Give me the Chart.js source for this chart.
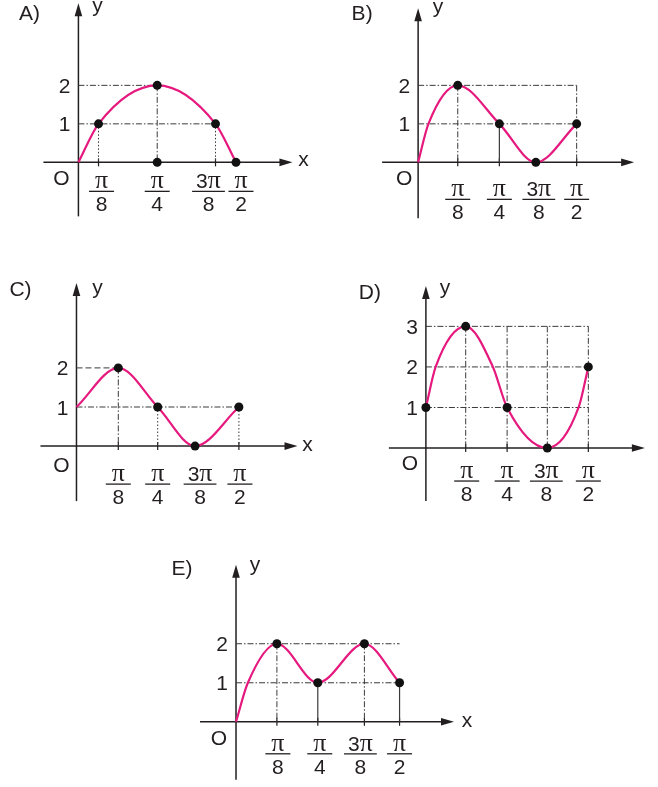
<!DOCTYPE html>
<html>
<head>
<meta charset="utf-8">
<script src="https://cdn.jsdelivr.net/npm/chart.js@4.4.1/dist/chart.umd.min.js"></script>
<style>
  body { margin: 0; background: #fff; }
  #wrap { position: relative; width: 658px; height: 787px; background: #fff; }
  canvas { position: absolute; }
</style>
</head>
<body>
<div id="wrap">
  <canvas id="cA" width="329" height="240" style="left:0;top:0"></canvas>
  <canvas id="cB" width="329" height="240" style="left:329px;top:0"></canvas>
  <canvas id="cC" width="329" height="262" style="left:0;top:262px"></canvas>
  <canvas id="cD" width="329" height="262" style="left:329px;top:262px"></canvas>
  <canvas id="cE" width="340" height="247" style="left:140px;top:540px"></canvas>
</div>
<script>
// x values are in units of pi/8 (4 = pi/2)
var tickNames = [["π", "8"], ["π", "4"], ["3π", "8"], ["π", "2"]];

// A)
var curveXA = [0, 0.51, 2.0, 3.48, 4.0];
var curveYA = [0, 1, 2, 1, 0];
var dotXA = [0.51, 2.0, 3.48, 2.0, 4.0];
var dotYA = [1, 2, 1, 0, 0];
var ticksA = [0.51, 2.0, 3.48, 4.0];
var yLabelsA = [1, 2];

// B)
var curveXB = [0, 0.26, 1.0, 2.05, 2.97, 4.0];
var curveYB = [0, 1, 2, 1, 0, 1];
var dotXB = [1.0, 2.05, 2.97, 4.0];
var dotYB = [2, 1, 0, 1];
var ticksB = [1.0, 2.05, 2.97, 4.0];
var yLabelsB = [1, 2];

// C)
var curveXC = [0, 1.03, 2.0, 2.92, 4.0];
var curveYC = [1, 2, 1, 0, 1];
var dotXC = [1.03, 2.0, 2.92, 4.0];
var dotYC = [2, 1, 0, 1];
var ticksC = [1.03, 2.0, 2.92, 4.0];
var yLabelsC = [1, 2];

// D)
var curveXD = [0, 0.24, 0.98, 1.65, 2.0, 2.99, 3.76, 4.0];
var curveYD = [1, 2, 3, 2, 1, 0, 1, 2];
var dotXD = [0, 0.98, 2.0, 2.99, 4.0];
var dotYD = [1, 3, 1, 0, 2];
var ticksD = [0.98, 2.0, 2.99, 4.0];
var yLabelsD = [1, 2, 3];

// E)
var curveXE = [0, 0.29, 1.0, 2.0, 3.14, 4.0];
var curveYE = [0, 1, 2, 1, 2, 1];
var dotXE = [1.0, 2.0, 3.14, 4.0];
var dotYE = [2, 1, 2, 1];
var ticksE = [1.0, 2.0, 3.14, 4.0];
var yLabelsE = [1, 2];

// reference lines [x1, y1, x2, y2]
var guidesA = {
    dashdot: [[0, 2, 2.0, 2], [0, 1, 3.48, 1], [2.0, 2, 2.0, 0]],
    dotted: [[0.51, 1, 0.51, 0], [3.48, 1, 3.48, 0]]
};
var guidesB = {
    dashdot: [[0, 2, 4.0, 2], [0, 1, 4.0, 1], [1.0, 2, 1.0, 0], [4.0, 2, 4.0, 0]],
    solid: [[2.05, 1, 2.05, 0]]
};
var guidesC = {
    dashed: [[0, 2, 1.03, 2]],
    dashdot: [[1.03, 2, 1.03, 0], [0, 1, 4.0, 1]],
    dotted: [[2.0, 1, 2.0, 0], [4.0, 1, 4.0, 0]]
};
var guidesD = {
    dashdot: [[0, 1, 4.0, 1], [0, 2, 4.0, 2], [0, 3, 4.0, 3],
              [0.98, 3, 0.98, 0], [2.0, 3, 2.0, 0], [2.99, 3, 2.99, 0], [4.0, 3, 4.0, 0]]
};
var guidesE = {
    dashdot: [[0, 2, 4.0, 2], [0, 1, 4.0, 1], [1.0, 2, 1.0, 0], [3.14, 2, 3.14, 0]],
    solid: [[2.0, 1, 2.0, 0], [4.0, 1, 4.0, 0]]
};

var INK = "#231f20";
var PINK = "#e5197e";
var SANS = '"Liberation Sans", Arial, sans-serif';
var SERIF = '"Liberation Serif", "Times New Roman", serif';
var FS = "21px ";
var dashes = { dashdot: [6, 2, 1.5, 2], dotted: [1.5, 2], dashed: [6, 3], solid: [] };

function pts(xs, ys) {
    return xs.map(function (x, i) { return { x: x, y: ys[i] }; });
}

// draws "π" / "3π" centred on cx, baseline by
function drawNumerator(ctx, s, cx, by) {
    ctx.textAlign = "left";
    ctx.font = FS + SANS;
    var pre = s.length > 1 ? s.slice(0, -1) : "";
    var w1 = pre ? ctx.measureText(pre).width : 0;
    ctx.font = "26px " + SERIF;
    var w2 = ctx.measureText("π").width;
    var x0 = cx - (w1 + w2) / 2;
    if (pre) {
        ctx.font = FS + SANS;
        ctx.fillText(pre, x0, by);
    }
    ctx.font = "26px " + SERIF;
    ctx.fillText("π", x0 + w1, by);
    return w1 + w2;
}

function axesPlugin(p) {
    return {
        id: "axes" + p.name,
        beforeDatasetsDraw: function (chart) {
            var ctx = chart.ctx;
            var ox = chart.scales.x.getPixelForValue(0);
            var oy = chart.scales.y.getPixelForValue(0);
            ctx.save();
            ctx.strokeStyle = INK;
            ctx.fillStyle = INK;
            ctx.lineWidth = 1.5;
            // x axis
            var xEnd = ox + p.xAxis[1];
            ctx.beginPath();
            ctx.moveTo(ox + p.xAxis[0], oy);
            ctx.lineTo(xEnd - 10, oy);
            ctx.stroke();
            ctx.beginPath();
            ctx.moveTo(xEnd, oy);
            ctx.lineTo(xEnd - 13, oy - 3.8);
            ctx.lineTo(xEnd - 13, oy + 3.8);
            ctx.closePath();
            ctx.fill();
            // y axis
            var yEnd = oy + p.yAxis[1];
            ctx.beginPath();
            ctx.moveTo(ox, oy + p.yAxis[0]);
            ctx.lineTo(ox, yEnd + 10);
            ctx.stroke();
            ctx.beginPath();
            ctx.moveTo(ox, yEnd);
            ctx.lineTo(ox - 3.8, yEnd + 13);
            ctx.lineTo(ox + 3.8, yEnd + 13);
            ctx.closePath();
            ctx.fill();
            // small ticks on x axis
            ctx.lineWidth = 1.2;
            p.ticks.forEach(function (t) {
                var px = chart.scales.x.getPixelForValue(t);
                ctx.beginPath();
                ctx.moveTo(px, oy - 4);
                ctx.lineTo(px, oy + 4);
                ctx.stroke();
            });
            ctx.restore();
        },
        afterDatasetsDraw: function (chart) {
            var ctx = chart.ctx;
            var xs = chart.scales.x, ys = chart.scales.y;
            var ox = xs.getPixelForValue(0);
            var oy = ys.getPixelForValue(0);
            ctx.save();
            ctx.fillStyle = INK;
            ctx.strokeStyle = INK;
            ctx.textBaseline = "alphabetic";
            ctx.font = FS + SANS;
            ctx.textAlign = "center";
            ctx.fillText(p.name + ")", ox + p.letter[0], oy + p.letter[1]);
            ctx.fillText("y", ox + p.yName[0], oy + p.yName[1]);
            if (p.xName) ctx.fillText("x", ox + p.xName[0], oy + p.xName[1]);
            ctx.fillText("O", ox + p.origin[0], oy + p.origin[1]);
            // y labels
            ctx.textAlign = "right";
            p.yLabels.forEach(function (v) {
                ctx.fillText(String(v), ox - 8, ys.getPixelForValue(v) + 7.5);
            });
            // fraction labels
            var bar = oy + p.barDy;
            p.ticks.forEach(function (t, i) {
                var cx = xs.getPixelForValue(t) + p.nudge[i];
                var wn = drawNumerator(ctx, tickNames[i][0], cx, bar - 3);
                ctx.font = FS + SANS;
                ctx.textAlign = "center";
                ctx.fillText(tickNames[i][1], cx, bar + 20);
                var w = Math.max(wn + 8, 25);
                ctx.lineWidth = 1.3;
                ctx.beginPath();
                ctx.moveTo(cx - w / 2, bar);
                ctx.lineTo(cx + w / 2, bar);
                ctx.stroke();
            });
            ctx.restore();
        }
    };
}

function makePanel(p) {
    var cv = document.getElementById(p.id);
    var W = cv.width, H = cv.height;
    var datasets = [];
    datasets.push({
        data: pts(p.dotX, p.dotY),
        showLine: false,
        pointRadius: 4.5,
        pointBackgroundColor: "#111",
        pointBorderWidth: 0
    });
    datasets.push({
        data: pts(p.curveX, p.curveY),
        borderColor: PINK,
        borderWidth: 2.2,
        pointRadius: 0,
        fill: false,
        cubicInterpolationMode: "monotone"
    });
    Object.keys(p.guides).forEach(function (kind) {
        p.guides[kind].forEach(function (g) {
            datasets.push({
                data: [{ x: g[0], y: g[1] }, { x: g[2], y: g[3] }],
                borderColor: "#3a3a3a",
                borderWidth: kind === "solid" ? 1.2 : 1,
                borderDash: dashes[kind],
                pointRadius: 0,
                fill: false
            });
        });
    });
    return new Chart(cv.getContext("2d"), {
        type: "line",
        data: { datasets: datasets },
        options: {
            responsive: false,
            animation: false,
            events: [],
            layout: { padding: 0 },
            plugins: { legend: { display: false }, tooltip: { enabled: false } },
            scales: {
                x: { type: "linear", display: false, min: -p.ox / p.ux, max: (W - p.ox) / p.ux },
                y: { type: "linear", display: false, min: -(H - p.oy) / p.uy, max: p.oy / p.uy }
            }
        },
        plugins: [axesPlugin(p)]
    });
}

makePanel({
    id: "cA", name: "A", ox: 76, oy: 164, ux: 40.5, uy: 40,
    curveX: curveXA, curveY: curveYA, dotX: dotXA, dotY: dotYA,
    ticks: ticksA, yLabels: yLabelsA, guides: guidesA,
    xAxis: [-35, 214], yAxis: [54, -159],
    letter: [-49, -142], yName: [19, -150], xName: [225, 4], origin: [-17, 23],
    barDy: 29, nudge: [3, 0, -7, 5]
});
makePanel({
    id: "cB", name: "B", ox: 87, oy: 164, ux: 40.75, uy: 40,
    curveX: curveXB, curveY: curveYB, dotX: dotXB, dotY: dotYB,
    ticks: ticksB, yLabels: yLabelsB, guides: guidesB,
    xAxis: [-36, 216], yAxis: [56, -154],
    letter: [-56, -142], yName: [20, -149], xName: null, origin: [-14, 23],
    barDy: 37, nudge: [0, 0, 3, 0]
});
makePanel({
    id: "cC", name: "C", ox: 74, oy: 186, ux: 41.75, uy: 40.5,
    curveX: curveXC, curveY: curveYC, dotX: dotXC, dotY: dotYC,
    ticks: ticksC, yLabels: yLabelsC, guides: guidesC,
    xAxis: [-36, 221], yAxis: [55, -163],
    letter: [-56, -150], yName: [21, -152], xName: [231, 5], origin: [-15, 26],
    barDy: 38, nudge: [0, 0, 5, 1]
});
makePanel({
    id: "cD", name: "D", ox: 95, oy: 188, ux: 41.75, uy: 42,
    curveX: curveXD, curveY: curveYD, dotX: dotXD, dotY: dotYD,
    ticks: ticksD, yLabels: yLabelsD, guides: guidesD,
    xAxis: [-37, 219], yAxis: [53, -162],
    letter: [-56, -149], yName: [19, -154], xName: null, origin: [-16, 22],
    barDy: 33, nudge: [1, 0, -1, 0]
});
makePanel({
    id: "cE", name: "E", ox: 94, oy: 184, ux: 42, uy: 40.5,
    curveX: curveXE, curveY: curveYE, dotX: dotXE, dotY: dotYE,
    ticks: ticksE, yLabels: yLabelsE, guides: guidesE,
    xAxis: [-36, 218], yAxis: [58, -157],
    letter: [-54, -147], yName: [19, -151], xName: [231, 5], origin: [-17, 23],
    barDy: 32, nudge: [1, 2, -4, 0]
});
</script>
</body>
</html>
